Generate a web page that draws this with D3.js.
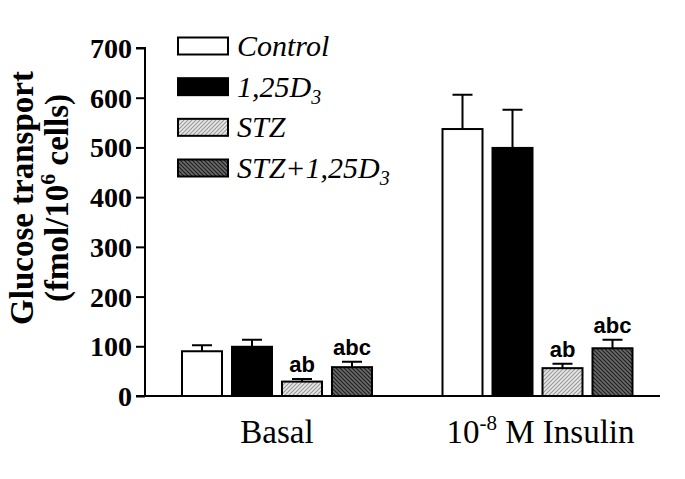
<!DOCTYPE html>
<html><head><meta charset="utf-8">
<script src="https://cdn.jsdelivr.net/npm/d3@7/dist/d3.min.js"></script>
<style>body{margin:0;background:#fff}svg{display:block}</style>
</head><body>
<svg id="c" width="685" height="479"></svg>
<script>
const groups = ["Basal", "Insulin"];
const series = ["Control", "1,25D3", "STZ", "STZ+1,25D3"];
const means = {
  "Control":    [90, 537],
  "1,25D3":     [99, 499],
  "STZ":        [29, 56],
  "STZ+1,25D3": [58, 96]
};
const errors = {
  "Control":    [12, 69],
  "1,25D3":     [14, 77],
  "STZ":        [5, 9],
  "STZ+1,25D3": [11, 17]
};
const sigLabels = {
  "Control":    ["", ""],
  "1,25D3":     ["", ""],
  "STZ":        ["ab", "ab"],
  "STZ+1,25D3": ["abc", "abc"]
};
const yTicks = [0, 100, 200, 300, 400, 500, 600, 700];

const svg = d3.select("#c");
const defs = svg.append("defs");
function hatch(id, bg, fg, dir) {
  const p = defs.append("pattern").attr("id", id).attr("patternUnits", "userSpaceOnUse")
    .attr("width", 4).attr("height", 4);
  p.append("rect").attr("width", 4).attr("height", 4).attr("fill", bg);
  const d = dir > 0 ? "M-1,1 l2,-2 M0,4 l4,-4 M3,5 l2,-2" : "M-1,3 l2,2 M0,0 l4,4 M3,-1 l2,2";
  p.append("path").attr("d", d).attr("stroke", fg).attr("stroke-width", 1.2);
}
hatch("pLight", "#e8e8e8", "#9a9a9a", 1);
hatch("pDark", "#6a6a6a", "#1e1e1e", -1);
const fills = {"Control": "#fff", "1,25D3": "#000", "STZ": "url(#pLight)", "STZ+1,25D3": "url(#pDark)"};

const y = d3.scaleLinear().domain([0, 700]).range([396, 48]);
const x0 = d3.scalePoint().domain(groups).range([277, 537.5]);
const x1 = d3.scaleBand().domain(series).range([-95, 95]).paddingInner(0.2);
const axisX = 145;

// y axis
const ya = svg.append("g").attr("transform", `translate(${axisX},0)`)
  .call(d3.axisLeft(y).tickValues(yTicks).tickSize(9).tickPadding(4));
ya.select(".domain").attr("stroke", "#000").attr("stroke-width", 2).attr("d", `M-9,${y(700)}H0V${y(0)}`);
ya.selectAll(".tick line").attr("stroke", "#000").attr("stroke-width", 2);
ya.selectAll(".tick text").attr("font-family", "Liberation Serif, serif").attr("font-weight", "bold")
  .attr("font-size", 28).attr("fill", "#000").attr("dy", "0.34em");

// x axis line
svg.append("line").attr("x1", axisX - 9).attr("x2", 660).attr("y1", y(0)).attr("y2", y(0))
  .attr("stroke", "#000").attr("stroke-width", 2);

// bars
const data = [];
groups.forEach((g, gi) => series.forEach(s => data.push({g, s, v: means[s][gi], e: errors[s][gi], lab: sigLabels[s][gi]})));
const bx = d => x0(d.g) + x1(d.s);
const bars = svg.append("g");
bars.selectAll("path.err").data(data).join("path").attr("class", "err")
  .attr("d", d => {
    const cx = bx(d) + x1.bandwidth() / 2;
    return `M${cx},${y(d.v)}V${y(d.v + d.e)}M${cx - 10},${y(d.v + d.e)}H${cx + 10}`;
  }).attr("stroke", "#000").attr("stroke-width", 2).attr("fill", "none");
bars.selectAll("rect").data(data).join("rect")
  .attr("x", d => bx(d)).attr("y", d => y(d.v))
  .attr("width", x1.bandwidth()).attr("height", d => y(0) - y(d.v))
  .attr("fill", d => fills[d.s]).attr("stroke", "#000").attr("stroke-width", 2);
bars.selectAll("text").data(data.filter(d => d.lab)).join("text")
  .attr("x", d => bx(d) + x1.bandwidth() / 2).attr("y", d => y(d.v + d.e) - 7)
  .attr("text-anchor", "middle").attr("font-family", "Liberation Sans, Arial, sans-serif")
  .attr("font-weight", "bold").attr("font-size", 22).text(d => d.lab);

// x labels
const xl = svg.append("g").attr("font-family", "Liberation Serif, serif").attr("font-size", 33).attr("text-anchor", "middle");
xl.append("text").attr("x", x0("Basal")).attr("y", 443).text("Basal");
const t2 = xl.append("text").attr("x", x0("Insulin") + 3).attr("y", 443);
t2.append("tspan").text("10");
t2.append("tspan").attr("dy", -13).attr("font-size", 21).text("-8");
t2.append("tspan").attr("dy", 13).text(" M Insulin");

// y label
const yl = svg.append("g").attr("transform", "translate(0,198) rotate(-90)")
  .attr("font-family", "Liberation Serif, serif").attr("font-weight", "bold").attr("font-size", 33).attr("text-anchor", "middle");
yl.append("text").attr("x", 0).attr("y", 33).text("Glucose transport");
const yl2 = yl.append("text").attr("x", 0).attr("y", 68);
yl2.append("tspan").text("(fmol/10");
yl2.append("tspan").attr("dy", -13).attr("font-size", 22).text("6");
yl2.append("tspan").attr("dy", 13).text(" cells)");

// legend
const legY = d3.scalePoint().domain(series).range([46, 168]);
const lg = svg.append("g");
series.forEach(s => {
  const cy = legY(s);
  lg.append("rect").attr("x", 178).attr("y", cy - 8.5).attr("width", 50).attr("height", 17)
    .attr("fill", fills[s]).attr("stroke", "#000").attr("stroke-width", 2);
  const t = lg.append("text").attr("x", 237).attr("y", cy + 10)
    .attr("font-family", "Liberation Serif, serif").attr("font-style", "italic").attr("font-size", 30);
  if (s.endsWith("D3")) {
    t.append("tspan").text(s.slice(0, -1));
    t.append("tspan").attr("dy", 7).attr("font-size", 20).text("3");
  } else t.text(s);
});
</script>
</body></html>
